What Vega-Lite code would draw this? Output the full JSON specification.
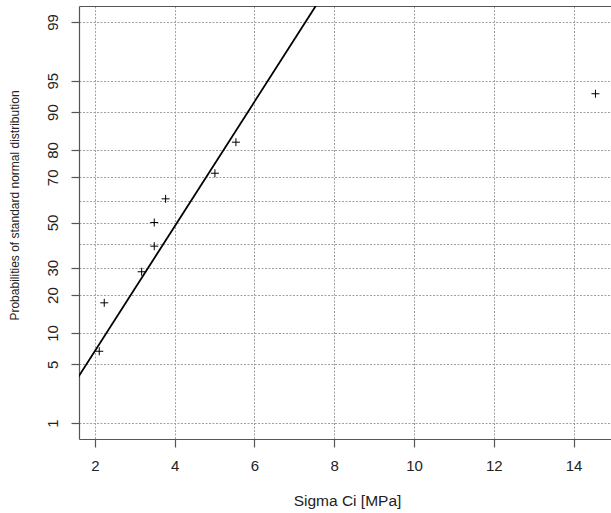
{
  "$schema": "https://vega.github.io/schema/vega-lite/v6.json",
  "width": 532,
  "height": 433,
  "autosize": {"type": "none"},
  "padding": {"left": 79, "top": 6, "right": 0, "bottom": 74},
  "background": "white",
  "config": {
    "view": {"stroke": null},
    "font": "Liberation Sans",
    "axis": {
      "domainColor": "#555555",
      "domainWidth": 1.2,
      "tickColor": "#555555",
      "tickWidth": 1.2,
      "tickSize": 8,
      "gridColor": "#a0a0a0",
      "gridDash": [2, 1.5],
      "gridWidth": 1,
      "labelFont": "Liberation Sans",
      "labelFontSize": 15,
      "labelColor": "#222222",
      "titleFont": "Liberation Sans",
      "titleFontWeight": "normal",
      "titleColor": "#222222"
    }
  },
  "datasets": {
    "observed": [
      {"sigma_ci": 2.108, "p": 6.76, "z": -1.494},
      {"sigma_ci": 2.233, "p": 17.57, "z": -0.932},
      {"sigma_ci": 3.171, "p": 28.38, "z": -0.5716},
      {"sigma_ci": 3.487, "p": 39.19, "z": -0.2745},
      {"sigma_ci": 3.487, "p": 50.0, "z": 0.0},
      {"sigma_ci": 3.772, "p": 60.81, "z": 0.2745},
      {"sigma_ci": 5.008, "p": 71.62, "z": 0.5716},
      {"sigma_ci": 5.535, "p": 82.43, "z": 0.932},
      {"sigma_ci": 14.55, "p": 93.24, "z": 1.494}
    ],
    "fit": [
      {"sigma_ci": 1.0, "p": 1.345, "z": -2.213},
      {"sigma_ci": 8.5, "p": 99.933, "z": 3.209}
    ]
  },
  "encoding": {
    "y": {
      "field": "z",
      "type": "quantitative",
      "scale": {"domain": [-2.512, 2.512], "nice": false, "zero": false},
      "axis": {
        "values": [-2.3263, -1.6449, -1.2816, -0.8416, -0.5244, -0.2533, 0, 0.2533, 0.5244, 0.8416, 1.2816, 1.6449, 2.3263],
        "tickCount": 13,
        "grid": true,
        "labelAngle": 270,
        "labelAlign": "center",
        "labelBaseline": "middle",
        "labelPadding": 19,
        "labelFlush": false,
        "labelOverlap": false,
        "labelExpr": "abs(abs(datum.value) - 0.2533) < 0.01 ? '' : format(cumulativeNormal(datum.value) * 100, '.0f')",
        "tickOpacity": {"condition": {"test": "abs(abs(datum.value) - 0.2533) < 0.01", "value": 0}, "value": 1},
        "title": "Probabilities of standard normal distribution",
        "titleFontSize": 12,
        "titleAngle": 270,
        "titleX": -65,
        "titleY": 199,
        "titleAlign": "center",
        "titleBaseline": "middle"
      }
    }
  },
  "resolve": {"axis": {"x": "independent"}},
  "layer": [
    {
      "data": {"name": "observed"},
      "mark": {
        "type": "point",
        "shape": "M-1,0L1,0M0,-1L0,1",
        "size": 64,
        "filled": false,
        "stroke": "black",
        "strokeWidth": 1,
        "opacity": 1
      },
      "encoding": {
        "x": {
          "field": "sigma_ci",
          "type": "quantitative",
          "scale": {"domain": [1.6, 14.94], "nice": false, "zero": false},
          "axis": {
            "orient": "bottom",
            "values": [2, 4, 6, 8, 10, 12, 14],
            "grid": true,
            "labelBaseline": "middle",
            "labelPadding": 18,
            "labelFlush": false,
            "title": "Sigma Ci [MPa]",
            "titleFontSize": 15.5,
            "titleX": 268,
            "titleY": 61,
            "titleAlign": "center",
            "titleBaseline": "middle"
          }
        }
      }
    },
    {
      "data": {"name": "fit"},
      "mark": {"type": "line", "color": "black", "strokeWidth": 1.8, "clip": true},
      "encoding": {
        "x": {
          "field": "sigma_ci",
          "type": "quantitative",
          "axis": {
            "orient": "top",
            "labels": false,
            "ticks": false,
            "grid": false,
            "title": null,
            "domain": true
          }
        }
      }
    }
  ]
}
